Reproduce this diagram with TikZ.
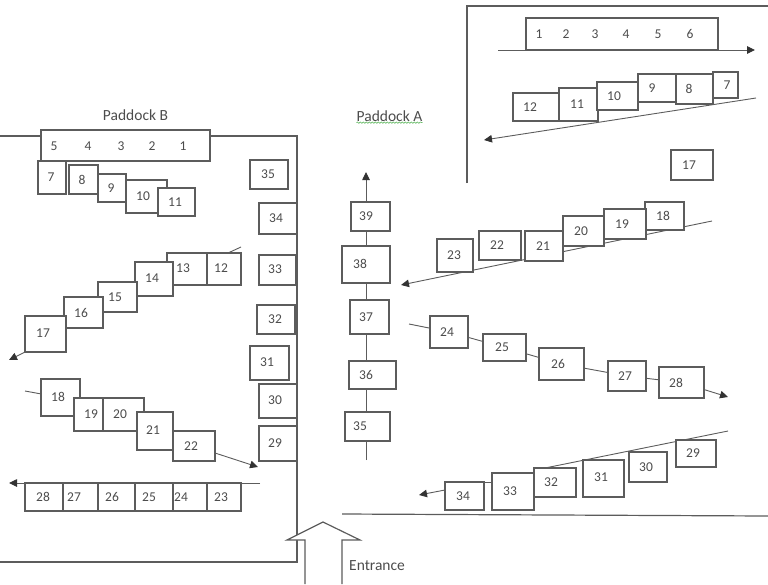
\documentclass[tikz,border=0pt]{standalone}
\usepackage{fontspec}
\setmainfont{Carlito}
\usetikzlibrary{arrows.meta,decorations.pathmorphing}
\definecolor{ln}{gray}{0.36}
\definecolor{tx}{gray}{0.3}
\tikzset{
  box/.style={draw=ln,line width=1.05pt,fill=white,inner sep=0pt,outer sep=0pt,text=tx,font=\fontsize{13.5}{13.5}\selectfont},
  lab/.style={inner sep=0pt,text=tx,font=\fontsize{13.5}{13.5}\selectfont},
  ttl/.style={inner sep=0pt,text=tx,font=\fontsize{15.5}{15.5}\selectfont},
  wall/.style={draw=ln,line width=1.2pt},
  conn/.style={draw=ln,line width=0.9pt},
  arr/.style={conn,-{Triangle[length=8pt,width=7.5pt,color=black!80]}},
}
% name, x1, y1, x2, y2, label, label x, label y
\newcommand{\bx}[8]{%
  \pgfmathsetmacro{\cxx}{(#2+#4)/2}\pgfmathsetmacro{\cyy}{(#3+#5)/2}%
  \pgfmathsetmacro{\ww}{#4-#2}\pgfmathsetmacro{\hh}{#5-#3}%
  \pgfmathsetmacro{\ddx}{#7-\cxx}\pgfmathsetmacro{\ddy}{\cyy-#8}%
  \node[box,minimum width=\ww pt,minimum height=\hh pt] (#1) at (\cxx,\cyy)
    {\raisebox{\ddy pt}{\makebox[0pt]{\hspace{\ddx pt}\hspace{\ddx pt}#6}}};}
\begin{document}
\begin{tikzpicture}[x=1pt,y=-1pt]
\useasboundingbox (0,0) rectangle (768,584);
% walls
\coordinate (wa) at (0,136); \coordinate (wb) at (297,136); \coordinate (wc) at (297,562); \coordinate (wd) at (0,562);
\draw[wall] (wa) -- (wb) -- (wc) -- (wd);
\coordinate (ra) at (467,183); \coordinate (rb) at (467,6); \coordinate (rc) at (768,6);
\draw[wall] (ra) -- (rb) -- (rc);
\coordinate (ga) at (342,514); \coordinate (gb) at (768,516);
\draw[wall] (ga) -- (gb);
% entrance arrow
\draw[wall,fill=white] (305,584) -- (305,540) -- (287,540) -- (323,522) -- (360,540) -- (342,540) -- (342,584);
\node[ttl,anchor=west] (ent) at (349,566) {Entrance};
% titles
\node[ttl] (pb) at (135.5,115) {Paddock B};
\node[ttl] (pa) at (389.5,116) {Paddock A};
\draw[draw=green!55!black!70,line width=0.5pt,decorate,decoration={snake,amplitude=0.7pt,segment length=3pt}] ([yshift=-1pt]pa.south west) -- ([yshift=-1pt]pa.south east);
% long lines behind the boxes
\coordinate (t1a) at (498,50); \coordinate (t1b) at (755,50);
\draw[arr] (t1a) -- (t1b);
\coordinate (t2a) at (756,98); \coordinate (t2b) at (484,140);
\draw[arr] (t2a) -- (t2b);
\coordinate (t3a) at (712,221); \coordinate (t3b) at (401,285);
\draw[arr] (t3a) -- (t3b);
\coordinate (t5a) at (728,431); \coordinate (t5b) at (545,468);
\draw[conn] (t5a) -- (t5b);
\coordinate (lra) at (260,483); \coordinate (lrb) at (9,483);
\draw[arr] (lra) -- (lrb);
% Paddock B
\bx{bar}{41}{130}{210}{161}{}{125}{146}
\node[lab] (b5) at (54,146) {5};
\node[lab] (b4) at (88,146) {4};
\node[lab] (b3) at (121,146) {3};
\node[lab] (b2) at (152,146) {2};
\node[lab] (b1) at (183,146) {1};
\bx{l7}{38}{161}{66}{194}{7}{51}{177}
\bx{l8}{69}{165}{98}{194}{8}{82}{180}
\bx{l9}{98}{174}{126}{202}{9}{111}{189}
\bx{l10}{126}{180}{167}{213}{10}{143}{197}
\bx{l11}{158}{188}{195}{216}{11}{175}{204}
\bx{l12}{207}{253}{241}{285}{12}{221}{268}
\bx{l13}{167}{253}{207}{285}{13}{183}{268}
\bx{l14}{135}{262}{173}{296}{14}{152}{278}
\bx{l15}{98}{282}{137}{312}{15}{115}{297}
\bx{l16}{64}{297}{103}{328}{16}{81}{313}
\bx{l17}{25}{316}{66}{352}{17}{43}{333}
\coordinate (l12in) at (241,247);
\draw[conn] (l12in) -- (228,253);
\coordinate (l17out) at (9,360);
\draw[arr] (l17.south west) -- (l17out);
\bx{l35}{250}{160}{288}{189}{35}{268}{175}
\bx{l34}{259}{203}{297}{234}{34}{276}{217}
\bx{l33}{259}{255}{296}{285}{33}{275}{269}
\bx{l32}{257}{305}{295}{334}{32}{275}{320}
\bx{l31}{250}{346}{289}{380}{31}{267}{362}
\bx{l30}{259}{384}{297}{418}{30}{275}{400}
\bx{l29}{259}{426}{297}{461}{29}{275}{442}
\bx{l18}{41}{379}{80}{416}{18}{58}{396}
\bx{l19}{74}{398}{103}{431}{19}{91}{413}
\bx{l20}{103}{398}{144}{431}{20}{120}{413}
\bx{l21}{137}{412}{173}{450}{21}{153}{430}
\bx{l22}{173}{431}{215}{461}{22}{191}{448}
\coordinate (l18in) at (25,391);
\draw[conn] (l18in) -- (l18);
\coordinate (l22out) at (258,467);
\draw[arr] ([yshift=-7pt]l22.east) -- (l22out);
\bx{l28}{25}{483}{63}{511}{28}{43}{499}
\bx{l27}{63}{483}{98}{511}{27}{74}{498}
\bx{l26}{98}{483}{135}{511}{26}{112}{498}
\bx{l25}{135}{483}{173}{511}{25}{149}{498}
\bx{l24}{173}{483}{207}{511}{24}{181}{498}
\bx{l23}{207}{483}{241}{511}{23}{221}{498}
% centre column
\bx{c39}{351}{202}{390}{231}{39}{366}{216}
\bx{c38}{342}{246}{390}{283}{38}{360}{263}
\bx{c37}{350}{300}{389}{334}{37}{366}{317}
\bx{c36}{349}{361}{396}{389}{36}{366}{376}
\bx{c35}{345}{412}{390}{441}{35}{360}{427}
\coordinate (cs) at (366,460); \coordinate (ct) at (366,172);
\draw[conn] (cs) -- (cs |- c35.south) (cs |- c35.north) -- (cs |- c36.south) (cs |- c36.north) -- (cs |- c37.south) (cs |- c37.north) -- (cs |- c38.south) (cs |- c38.north) -- (cs |- c39.south);
\draw[arr] (cs |- c39.north) -- (ct);
% Paddock A
\bx{top}{526}{18}{718}{50}{}{622}{34}
\node[lab] (a1) at (539,34) {1};
\node[lab] (a2) at (566,34) {2};
\node[lab] (a3) at (595,34) {3};
\node[lab] (a4) at (626,34) {4};
\node[lab] (a5) at (658,34) {5};
\node[lab] (a6) at (690,34) {6};
\bx{r12}{513}{93}{559}{121}{12}{530}{110}
\bx{r11}{559}{88}{598}{121}{11}{577}{104}
\bx{r10}{597}{82}{638}{110}{10}{614}{98}
\bx{r9}{638}{74}{676}{102}{9}{652}{88}
\bx{r8}{676}{74}{713}{104}{8}{689}{88}
\bx{r7}{713}{72}{738}{98}{7}{727}{87}
\bx{r17}{671}{150}{713}{180}{17}{689}{166}
\bx{r18}{645}{202}{684}{230}{18}{663}{218}
\bx{r19}{604}{209}{646}{239}{19}{622}{225}
\bx{r20}{563}{216}{604}{246}{20}{581}{232}
\bx{r21}{525}{231}{563}{261}{21}{543}{248}
\bx{r22}{479}{231}{521}{260}{22}{497}{247}
\bx{r23}{437}{239}{473}{272}{23}{454}{256}
\bx{r24}{430}{316}{468}{348}{24}{447}{332}
\bx{r25}{483}{334}{526}{361}{25}{502}{349}
\bx{r26}{539}{348}{584}{380}{26}{558}{363}
\bx{r27}{608}{361}{646}{391}{27}{625}{377}
\bx{r28}{659}{367}{704}{398}{28}{676}{383}
\coordinate (r24in) at (409,324); \coordinate (r28out) at (728,397);
\draw[conn] (r24in) -- (r24) (r24) -- (r25) (r25) -- (r26) (r26) -- (r27) (r27) -- (r28);
\draw[arr] (r28) -- (r28out);
\bx{r29}{676}{440}{716}{467}{29}{693}{455}
\bx{r30}{629}{452}{667}{482}{30}{646}{468}
\bx{r31}{583}{460}{624}{497}{31}{601}{476}
\bx{r32}{534}{468}{576}{497}{32}{551}{484}
\bx{r33}{492}{473}{534}{510}{33}{510}{490}
\bx{r34}{445}{482}{484}{510}{34}{463}{498}
\coordinate (r34out) at (419,495);
\draw[conn] (r34.north east) -- (r33.west |- r34.north east);
\draw[arr] ([yshift=6pt]r34.west) -- (r34out);
\end{tikzpicture}
\end{document}
